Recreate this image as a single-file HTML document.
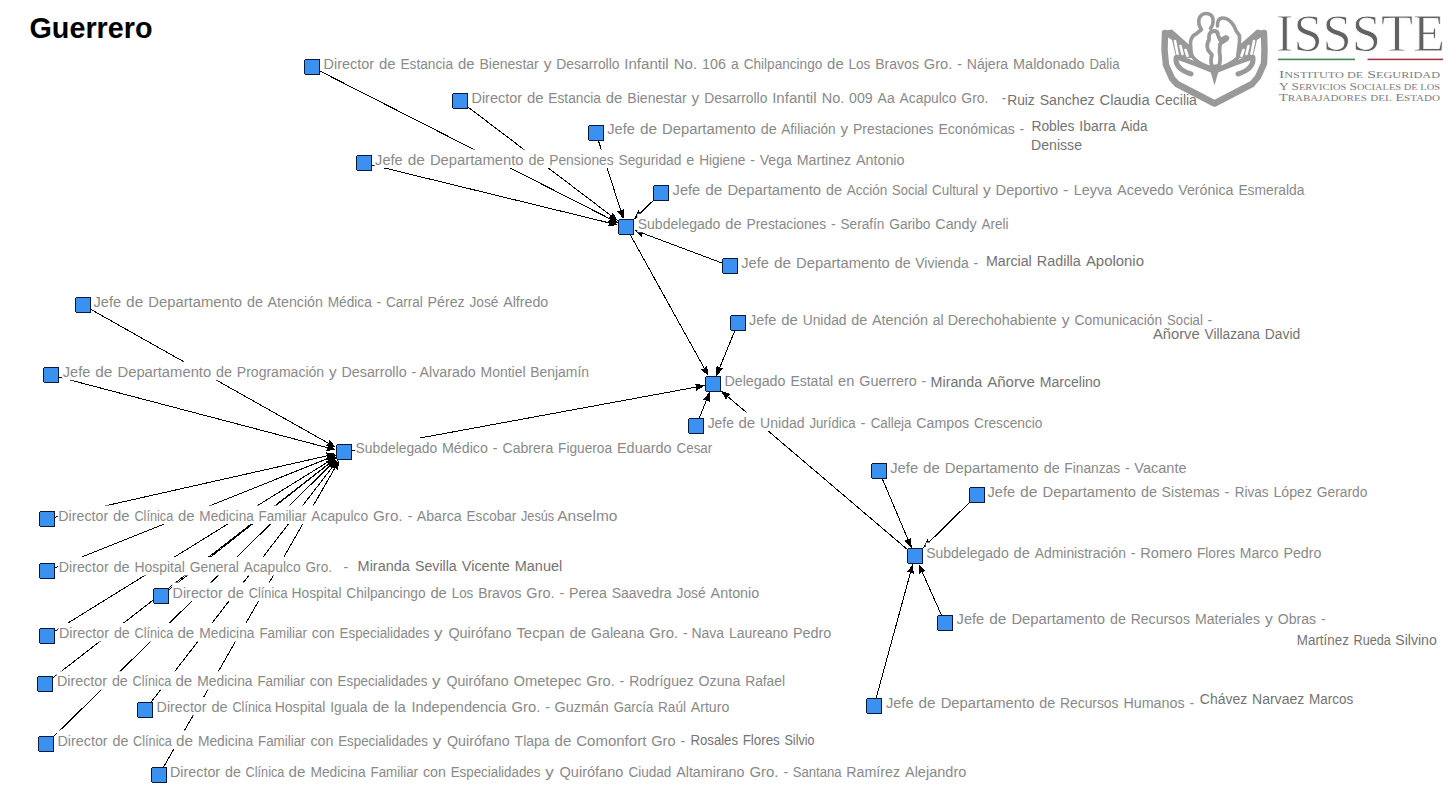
<!DOCTYPE html>
<html><head><meta charset="utf-8"><title>Guerrero</title>
<style>
html,body{margin:0;padding:0;background:#fff;}
body{width:1456px;height:787px;overflow:hidden;position:relative;}
svg{position:absolute;left:0;top:0;display:block;}
</style></head><body>
<svg width="1456" height="787" viewBox="0 0 1456 787">
<rect width="1456" height="787" fill="#fff"/>
<g fill="none" stroke="#999" stroke-linecap="round" stroke-linejoin="round">
<path stroke-width="6.5" d="M1165,33 L1164.5,50 L1166,65 L1172,78.5 L1177,84 L1214.5,103.5 L1252,84 L1258,77 L1264,63.5 L1264.5,50 L1264,33"/>
<path stroke="none" fill="#999" d="M1163,31 L1172,29.5 L1189.5,45 L1192,58 L1176.5,59 L1172,40 L1167.5,37 Z"/>
<path stroke="none" fill="#999" d="M1266,31 L1257,29.5 L1239.5,45 L1237,58 L1252.5,59 L1257,40 L1261.5,37 Z"/>
<g stroke="#fff" stroke-width="2.6" stroke-linecap="round">
<path d="M1175,41 L1177.5,54 M1180.5,46 L1182.5,54 M1185.5,50 L1187.5,56"/>
<path d="M1254,41 L1251.5,54 M1248.5,46 L1246.5,54 M1243.5,50 L1241.5,56"/>
</g>
<path stroke-width="4.6" d="M1176.5,57 L1196,64 L1211,70"/>
<path stroke-width="4.6" d="M1253,57 L1233,64 L1218,70"/>
<path stroke-width="5" d="M1176,58 Q1175,69 1191,74"/>
<path stroke-width="5" d="M1253,58 Q1254,69 1238,74"/>
<path stroke-width="3.6" d="M1214,69 Q1192,62 1191,52 L1190.5,43 Q1191,36 1196,34 L1201.5,29.5 Q1198,25 1199,19 Q1201,13.5 1206,13.5 Q1212,13.5 1213,19 Q1213.5,25 1210.5,28.5"/>
<path stroke-width="3.6" d="M1217.5,26 Q1217,19 1222,18 Q1229,17.5 1234,26 Q1236,32 1239.5,35.5 Q1240,42 1238.5,50 L1237.5,58 Q1230,65 1216,69"/>
<path stroke-width="3.8" d="M1209,36 Q1210,31 1214,31 Q1218,31 1218,35 L1220,40 L1226,37 Q1229,37.5 1226,40 L1220,44 L1219.5,52 Q1221,60 1219,66 L1212,67 Q1210,60 1212,55 L1208,50 Q1206,44 1209,40 Z"/>
<path stroke="none" fill="#999" d="M1209.5,68 L1214.5,85.5 L1219.5,68 Z"/>
</g>
<text x="1276" y="51" font-family="Liberation Serif, serif" font-size="53" fill="#626262" stroke="#fff" stroke-width="0.8" textLength="169" lengthAdjust="spacingAndGlyphs">ISSSTE</text>
<rect x="1278" y="58.6" width="77" height="1.6" fill="#3f8a50"/>
<rect x="1367.5" y="58.6" width="75.5" height="1.6" fill="#a33a4a"/>
<g font-family="Liberation Serif, serif" fill="#7d7d7d">
<text x="1279" y="77.7" font-size="11" textLength="161" lengthAdjust="spacingAndGlyphs">I<tspan font-size="8.6">NSTITUTO  DE</tspan>  S<tspan font-size="8.6">EGURIDAD</tspan></text>
<text x="1279" y="89.6" font-size="11" textLength="161" lengthAdjust="spacingAndGlyphs">Y S<tspan font-size="8.6">ERVICIOS</tspan> S<tspan font-size="8.6">OCIALES DE LOS</tspan></text>
<text x="1279" y="101" font-size="11" textLength="161" lengthAdjust="spacingAndGlyphs">T<tspan font-size="8.6">RABAJADORES</tspan>  <tspan font-size="8.6">DEL</tspan>  E<tspan font-size="8.6">STADO</tspan></text>
</g>

<text x="29.5" y="38.3" font-family="Liberation Sans, sans-serif" font-weight="bold" font-size="30" fill="#000" textLength="123" lengthAdjust="spacingAndGlyphs">Guerrero</text>
<g stroke="#000" stroke-width="1" fill="none" shape-rendering="crispEdges">
<line x1="312.00" y1="67.00" x2="610.16" y2="218.93"/>
<path d="M618.00,222.92L607.90,221.82L610.16,218.93L611.17,215.40Z" stroke="none" fill="#000"/>
<line x1="460.00" y1="101.00" x2="610.99" y2="215.61"/>
<path d="M618.00,220.93L608.26,218.05L610.99,215.61L612.61,212.32Z" stroke="none" fill="#000"/>
<line x1="596.00" y1="133.00" x2="620.77" y2="210.62"/>
<path d="M623.45,219.00L617.13,211.04L620.77,210.62L623.99,208.86Z" stroke="none" fill="#000"/>
<line x1="364.00" y1="163.00" x2="609.45" y2="222.96"/>
<path d="M618.00,225.05L607.92,226.29L609.45,222.96L609.63,219.29Z" stroke="none" fill="#000"/>
<line x1="661.00" y1="193.00" x2="640.31" y2="213.10"/>
<path d="M634.00,219.23L638.31,210.03L640.31,213.10L643.32,215.19Z" stroke="none" fill="#000"/>
<line x1="730.00" y1="266.00" x2="642.24" y2="233.09"/>
<path d="M634.00,230.00L644.16,229.96L642.24,233.09L641.63,236.71Z" stroke="none" fill="#000"/>
<line x1="626.00" y1="227.00" x2="704.30" y2="368.30"/>
<path d="M708.57,376.00L700.81,369.44L704.30,368.30L707.11,365.95Z" stroke="none" fill="#000"/>
<line x1="738.00" y1="323.00" x2="719.62" y2="367.86"/>
<path d="M716.28,376.00L716.55,365.84L719.62,367.86L723.21,368.57Z" stroke="none" fill="#000"/>
<line x1="696.00" y1="426.00" x2="706.46" y2="400.16"/>
<path d="M709.76,392.00L709.53,402.16L706.46,400.16L702.86,399.46Z" stroke="none" fill="#000"/>
<line x1="344.00" y1="452.00" x2="696.35" y2="387.07"/>
<path d="M705.00,385.47L696.31,390.74L696.35,387.07L695.00,383.66Z" stroke="none" fill="#000"/>
<line x1="915.00" y1="556.00" x2="727.70" y2="396.52"/>
<path d="M721.00,390.81L730.57,394.23L727.70,396.52L725.90,399.71Z" stroke="none" fill="#000"/>
<line x1="83.00" y1="305.00" x2="328.33" y2="443.18"/>
<path d="M336.00,447.49L325.96,445.97L328.33,443.18L329.49,439.70Z" stroke="none" fill="#000"/>
<line x1="51.00" y1="375.00" x2="327.49" y2="447.66"/>
<path d="M336.00,449.90L325.90,450.96L327.49,447.66L327.73,444.00Z" stroke="none" fill="#000"/>
<line x1="47.00" y1="519.00" x2="327.42" y2="455.74"/>
<path d="M336.00,453.80L327.53,459.41L327.42,455.74L325.94,452.38Z" stroke="none" fill="#000"/>
<line x1="47.00" y1="571.00" x2="327.83" y2="458.48"/>
<path d="M336.00,455.21L328.52,462.08L327.83,458.48L325.84,455.40Z" stroke="none" fill="#000"/>
<line x1="161.00" y1="596.00" x2="329.08" y2="463.74"/>
<path d="M336.00,458.30L330.76,467.00L329.08,463.74L326.31,461.34Z" stroke="none" fill="#000"/>
<line x1="47.00" y1="636.00" x2="328.52" y2="461.59"/>
<path d="M336.00,456.96L329.82,465.02L328.52,461.59L326.03,458.90Z" stroke="none" fill="#000"/>
<line x1="45.00" y1="684.00" x2="329.05" y2="463.60"/>
<path d="M336.00,458.21L330.70,466.88L329.05,463.60L326.29,461.19Z" stroke="none" fill="#000"/>
<line x1="145.00" y1="710.00" x2="332.45" y2="466.97"/>
<path d="M337.83,460.00L334.88,469.72L332.45,466.97L329.18,465.32Z" stroke="none" fill="#000"/>
<line x1="46.00" y1="744.00" x2="329.71" y2="466.00"/>
<path d="M336.00,459.84L331.73,469.06L329.71,466.00L326.69,463.92Z" stroke="none" fill="#000"/>
<line x1="159.00" y1="775.00" x2="335.04" y2="467.64"/>
<path d="M339.42,460.00L337.82,470.03L335.04,467.64L331.57,466.45Z" stroke="none" fill="#000"/>
<line x1="879.00" y1="471.00" x2="908.18" y2="539.90"/>
<path d="M911.61,548.00L904.59,540.66L908.18,539.90L911.22,537.85Z" stroke="none" fill="#000"/>
<line x1="977.00" y1="495.00" x2="929.27" y2="541.96"/>
<path d="M923.00,548.13L927.25,538.90L929.27,541.96L932.30,544.03Z" stroke="none" fill="#000"/>
<line x1="945.00" y1="623.00" x2="922.18" y2="572.03"/>
<path d="M918.58,564.00L925.75,571.20L922.18,572.03L919.18,574.14Z" stroke="none" fill="#000"/>
<line x1="874.00" y1="706.00" x2="910.49" y2="572.49"/>
<path d="M912.81,564.00L913.78,574.11L910.49,572.49L906.84,572.21Z" stroke="none" fill="#000"/>
</g>
<g fill="#fff">
<rect x="323.1" y="53.75" width="797.4" height="18.5"/>
<rect x="471.0" y="87.50" width="518.5" height="18.5"/>
<rect x="1000.9" y="87.50" width="5.1" height="18.5"/>
<rect x="606.8" y="119.25" width="416.2" height="18.5"/>
<rect x="374.6" y="149.50" width="530.9" height="18.5"/>
<rect x="672.1" y="180.00" width="633.4" height="18.5"/>
<rect x="637.2" y="213.75" width="372.3" height="18.5"/>
<rect x="740.8" y="252.50" width="237.7" height="18.5"/>
<rect x="93.0" y="291.75" width="456.3" height="18.5"/>
<rect x="748.4" y="309.50" width="464.6" height="18.5"/>
<rect x="62.2" y="361.75" width="527.8" height="18.5"/>
<rect x="723.9" y="370.75" width="202.6" height="18.5"/>
<rect x="707.2" y="412.50" width="336.3" height="18.5"/>
<rect x="355.1" y="438.00" width="358.2" height="18.5"/>
<rect x="889.7" y="457.50" width="297.8" height="18.5"/>
<rect x="987.1" y="482.00" width="381.3" height="18.5"/>
<rect x="57.8" y="505.50" width="560.5" height="18.5"/>
<rect x="925.7" y="542.50" width="396.6" height="18.5"/>
<rect x="58.2" y="557.00" width="274.8" height="18.5"/>
<rect x="343.1" y="557.00" width="5.9" height="18.5"/>
<rect x="172.1" y="582.50" width="588.2" height="18.5"/>
<rect x="956.1" y="609.25" width="369.9" height="18.5"/>
<rect x="58.4" y="623.00" width="773.9" height="18.5"/>
<rect x="56.4" y="671.25" width="729.6" height="18.5"/>
<rect x="885.4" y="692.50" width="309.1" height="18.5"/>
<rect x="156.1" y="697.00" width="574.2" height="18.5"/>
<rect x="57.0" y="730.50" width="628.5" height="18.5"/>
<rect x="169.5" y="762.00" width="797.8" height="18.5"/>
</g>
<g font-family="Liberation Sans, sans-serif" font-size="15.5" fill="#898989">
<text lengthAdjust="spacingAndGlyphs" x="323.60" y="68.75" textLength="50.50">Director</text>
<text lengthAdjust="spacingAndGlyphs" x="378.99" y="68.75" textLength="16.57">de</text>
<text lengthAdjust="spacingAndGlyphs" x="400.46" y="68.75" textLength="52.56">Estancia</text>
<text lengthAdjust="spacingAndGlyphs" x="457.95" y="68.75" textLength="16.57">de</text>
<text lengthAdjust="spacingAndGlyphs" x="479.42" y="68.75" textLength="59.38">Bienestar</text>
<text lengthAdjust="spacingAndGlyphs" x="543.70" y="68.75" textLength="7.70">y</text>
<text lengthAdjust="spacingAndGlyphs" x="556.30" y="68.75" textLength="63.20">Desarrollo</text>
<text lengthAdjust="spacingAndGlyphs" x="624.30" y="68.75" textLength="44.38">Infantil</text>
<text lengthAdjust="spacingAndGlyphs" x="673.80" y="68.75" textLength="23.33">No.</text>
<text lengthAdjust="spacingAndGlyphs" x="702.10" y="68.75" textLength="23.94">106</text>
<text lengthAdjust="spacingAndGlyphs" x="730.90" y="68.75" textLength="7.76">a</text>
<text lengthAdjust="spacingAndGlyphs" x="743.70" y="68.75" textLength="78.57">Chilpancingo</text>
<text lengthAdjust="spacingAndGlyphs" x="827.10" y="68.75" textLength="16.58">de</text>
<text lengthAdjust="spacingAndGlyphs" x="848.58" y="68.75" textLength="21.74">Los</text>
<text lengthAdjust="spacingAndGlyphs" x="875.23" y="68.75" textLength="43.68">Bravos</text>
<text lengthAdjust="spacingAndGlyphs" x="923.81" y="68.75" textLength="28.45">Gro.</text>
<text lengthAdjust="spacingAndGlyphs" x="957.16" y="68.75" textLength="4.74">-</text>
<text lengthAdjust="spacingAndGlyphs" x="966.78" y="68.75" textLength="41.36">Nájera</text>
<text lengthAdjust="spacingAndGlyphs" x="1013.07" y="68.75" textLength="71.59">Maldonado</text>
<text lengthAdjust="spacingAndGlyphs" x="1089.55" y="68.75" textLength="29.94">Dalia</text>
<text lengthAdjust="spacingAndGlyphs" x="471.50" y="102.5" textLength="50.50">Director</text>
<text lengthAdjust="spacingAndGlyphs" x="526.89" y="102.5" textLength="16.57">de</text>
<text lengthAdjust="spacingAndGlyphs" x="548.36" y="102.5" textLength="52.56">Estancia</text>
<text lengthAdjust="spacingAndGlyphs" x="605.85" y="102.5" textLength="16.57">de</text>
<text lengthAdjust="spacingAndGlyphs" x="627.32" y="102.5" textLength="59.38">Bienestar</text>
<text lengthAdjust="spacingAndGlyphs" x="691.60" y="102.5" textLength="7.70">y</text>
<text lengthAdjust="spacingAndGlyphs" x="704.20" y="102.5" textLength="63.20">Desarrollo</text>
<text lengthAdjust="spacingAndGlyphs" x="772.20" y="102.5" textLength="44.38">Infantil</text>
<text lengthAdjust="spacingAndGlyphs" x="821.70" y="102.5" textLength="22.58">No.</text>
<text lengthAdjust="spacingAndGlyphs" x="849.09" y="102.5" textLength="23.66">009</text>
<text lengthAdjust="spacingAndGlyphs" x="877.56" y="102.5" textLength="17.15">Aa</text>
<text lengthAdjust="spacingAndGlyphs" x="899.56" y="102.5" textLength="56.89">Acapulco</text>
<text lengthAdjust="spacingAndGlyphs" x="961.29" y="102.5" textLength="27.21">Gro.</text>
<text lengthAdjust="spacingAndGlyphs" x="1001.40" y="102.5" textLength="4.65">-</text>
<text lengthAdjust="spacingAndGlyphs" x="607.30" y="134.25" textLength="27.66">Jefe</text>
<text lengthAdjust="spacingAndGlyphs" x="639.90" y="134.25" textLength="17.13">de</text>
<text lengthAdjust="spacingAndGlyphs" x="662.10" y="134.25" textLength="93.69">Departamento</text>
<text lengthAdjust="spacingAndGlyphs" x="760.70" y="134.25" textLength="15.90">de</text>
<text lengthAdjust="spacingAndGlyphs" x="781.30" y="134.25" textLength="54.32">Afiliación</text>
<text lengthAdjust="spacingAndGlyphs" x="840.51" y="134.25" textLength="7.67">y</text>
<text lengthAdjust="spacingAndGlyphs" x="853.07" y="134.25" textLength="80.46">Prestaciones</text>
<text lengthAdjust="spacingAndGlyphs" x="938.42" y="134.25" textLength="76.29">Económicas</text>
<text lengthAdjust="spacingAndGlyphs" x="1019.60" y="134.25" textLength="4.65">-</text>
<text lengthAdjust="spacingAndGlyphs" x="375.10" y="164.5" textLength="27.66">Jefe</text>
<text lengthAdjust="spacingAndGlyphs" x="407.70" y="164.5" textLength="17.13">de</text>
<text lengthAdjust="spacingAndGlyphs" x="429.90" y="164.5" textLength="93.69">Departamento</text>
<text lengthAdjust="spacingAndGlyphs" x="528.50" y="164.5" textLength="15.98">de</text>
<text lengthAdjust="spacingAndGlyphs" x="549.20" y="164.5" textLength="64.44">Pensiones</text>
<text lengthAdjust="spacingAndGlyphs" x="618.48" y="164.5" textLength="62.95">Seguridad</text>
<text lengthAdjust="spacingAndGlyphs" x="686.29" y="164.5" textLength="8.01">e</text>
<text lengthAdjust="spacingAndGlyphs" x="699.13" y="164.5" textLength="46.18">Higiene</text>
<text lengthAdjust="spacingAndGlyphs" x="750.17" y="164.5" textLength="4.68">-</text>
<text lengthAdjust="spacingAndGlyphs" x="759.69" y="164.5" textLength="32.16">Vega</text>
<text lengthAdjust="spacingAndGlyphs" x="796.73" y="164.5" textLength="54.39">Martinez</text>
<text lengthAdjust="spacingAndGlyphs" x="855.97" y="164.5" textLength="48.52">Antonio</text>
<text lengthAdjust="spacingAndGlyphs" x="672.60" y="195" textLength="27.66">Jefe</text>
<text lengthAdjust="spacingAndGlyphs" x="705.20" y="195" textLength="17.13">de</text>
<text lengthAdjust="spacingAndGlyphs" x="727.40" y="195" textLength="93.69">Departamento</text>
<text lengthAdjust="spacingAndGlyphs" x="826.00" y="195" textLength="15.98">de</text>
<text lengthAdjust="spacingAndGlyphs" x="846.70" y="195" textLength="40.62">Acción</text>
<text lengthAdjust="spacingAndGlyphs" x="892.05" y="195" textLength="35.33">Social</text>
<text lengthAdjust="spacingAndGlyphs" x="932.08" y="195" textLength="46.11">Cultural</text>
<text lengthAdjust="spacingAndGlyphs" x="982.90" y="195" textLength="7.76">y</text>
<text lengthAdjust="spacingAndGlyphs" x="995.60" y="195" textLength="62.51">Deportivo</text>
<text lengthAdjust="spacingAndGlyphs" x="1063.00" y="195" textLength="5.31">-</text>
<text lengthAdjust="spacingAndGlyphs" x="1073.80" y="195" textLength="38.24">Leyva</text>
<text lengthAdjust="spacingAndGlyphs" x="1117.00" y="195" textLength="56.44">Acevedo</text>
<text lengthAdjust="spacingAndGlyphs" x="1178.30" y="195" textLength="55.22">Verónica</text>
<text lengthAdjust="spacingAndGlyphs" x="1238.40" y="195" textLength="66.10">Esmeralda</text>
<text lengthAdjust="spacingAndGlyphs" x="637.70" y="228.75" textLength="82.74">Subdelegado</text>
<text lengthAdjust="spacingAndGlyphs" x="725.28" y="228.75" textLength="16.38">de</text>
<text lengthAdjust="spacingAndGlyphs" x="746.50" y="228.75" textLength="79.66">Prestaciones</text>
<text lengthAdjust="spacingAndGlyphs" x="830.99" y="228.75" textLength="4.68">-</text>
<text lengthAdjust="spacingAndGlyphs" x="840.50" y="228.75" textLength="43.89">Serafín</text>
<text lengthAdjust="spacingAndGlyphs" x="889.24" y="228.75" textLength="41.22">Garibo</text>
<text lengthAdjust="spacingAndGlyphs" x="935.32" y="228.75" textLength="41.40">Candy</text>
<text lengthAdjust="spacingAndGlyphs" x="981.55" y="228.75" textLength="26.96">Areli</text>
<text lengthAdjust="spacingAndGlyphs" x="741.30" y="267.5" textLength="27.66">Jefe</text>
<text lengthAdjust="spacingAndGlyphs" x="773.90" y="267.5" textLength="17.13">de</text>
<text lengthAdjust="spacingAndGlyphs" x="796.10" y="267.5" textLength="93.69">Departamento</text>
<text lengthAdjust="spacingAndGlyphs" x="894.70" y="267.5" textLength="15.90">de</text>
<text lengthAdjust="spacingAndGlyphs" x="915.30" y="267.5" textLength="53.41">Vivienda</text>
<text lengthAdjust="spacingAndGlyphs" x="973.60" y="267.5" textLength="4.65">-</text>
<text lengthAdjust="spacingAndGlyphs" x="93.50" y="306.75" textLength="27.66">Jefe</text>
<text lengthAdjust="spacingAndGlyphs" x="126.10" y="306.75" textLength="17.13">de</text>
<text lengthAdjust="spacingAndGlyphs" x="148.30" y="306.75" textLength="93.69">Departamento</text>
<text lengthAdjust="spacingAndGlyphs" x="246.90" y="306.75" textLength="15.98">de</text>
<text lengthAdjust="spacingAndGlyphs" x="267.60" y="306.75" textLength="55.32">Atención</text>
<text lengthAdjust="spacingAndGlyphs" x="327.72" y="306.75" textLength="44.03">Médica</text>
<text lengthAdjust="spacingAndGlyphs" x="376.56" y="306.75" textLength="4.65">-</text>
<text lengthAdjust="spacingAndGlyphs" x="385.99" y="306.75" textLength="36.78">Carral</text>
<text lengthAdjust="spacingAndGlyphs" x="427.56" y="306.75" textLength="37.17">Pérez</text>
<text lengthAdjust="spacingAndGlyphs" x="469.53" y="306.75" textLength="28.80">José</text>
<text lengthAdjust="spacingAndGlyphs" x="503.13" y="306.75" textLength="45.19">Alfredo</text>
<text lengthAdjust="spacingAndGlyphs" x="748.90" y="324.5" textLength="27.41">Jefe</text>
<text lengthAdjust="spacingAndGlyphs" x="781.20" y="324.5" textLength="16.59">de</text>
<text lengthAdjust="spacingAndGlyphs" x="802.70" y="324.5" textLength="43.83">Unidad</text>
<text lengthAdjust="spacingAndGlyphs" x="851.30" y="324.5" textLength="15.98">de</text>
<text lengthAdjust="spacingAndGlyphs" x="872.00" y="324.5" textLength="55.94">Atención</text>
<text lengthAdjust="spacingAndGlyphs" x="932.80" y="324.5" textLength="10.86">al</text>
<text lengthAdjust="spacingAndGlyphs" x="947.70" y="324.5" textLength="109.11">Derechohabiente</text>
<text lengthAdjust="spacingAndGlyphs" x="1061.70" y="324.5" textLength="7.82">y</text>
<text lengthAdjust="spacingAndGlyphs" x="1074.50" y="324.5" textLength="87.73">Comunicación</text>
<text lengthAdjust="spacingAndGlyphs" x="1167.10" y="324.5" textLength="35.74">Social</text>
<text lengthAdjust="spacingAndGlyphs" x="1207.60" y="324.5" textLength="4.65">-</text>
<text lengthAdjust="spacingAndGlyphs" x="62.70" y="376.75" textLength="27.66">Jefe</text>
<text lengthAdjust="spacingAndGlyphs" x="95.30" y="376.75" textLength="17.13">de</text>
<text lengthAdjust="spacingAndGlyphs" x="117.50" y="376.75" textLength="93.69">Departamento</text>
<text lengthAdjust="spacingAndGlyphs" x="216.10" y="376.75" textLength="15.98">de</text>
<text lengthAdjust="spacingAndGlyphs" x="236.80" y="376.75" textLength="87.36">Programación</text>
<text lengthAdjust="spacingAndGlyphs" x="329.02" y="376.75" textLength="7.62">y</text>
<text lengthAdjust="spacingAndGlyphs" x="341.50" y="376.75" textLength="65.15">Desarrollo</text>
<text lengthAdjust="spacingAndGlyphs" x="411.60" y="376.75" textLength="4.65">-</text>
<text lengthAdjust="spacingAndGlyphs" x="419.60" y="376.75" textLength="56.15">Alvarado</text>
<text lengthAdjust="spacingAndGlyphs" x="480.60" y="376.75" textLength="44.94">Montiel</text>
<text lengthAdjust="spacingAndGlyphs" x="530.30" y="376.75" textLength="58.70">Benjamín</text>
<text lengthAdjust="spacingAndGlyphs" x="724.40" y="385.75" textLength="61.10">Delegado</text>
<text lengthAdjust="spacingAndGlyphs" x="790.40" y="385.75" textLength="42.81">Estatal</text>
<text lengthAdjust="spacingAndGlyphs" x="838.09" y="385.75" textLength="16.33">en</text>
<text lengthAdjust="spacingAndGlyphs" x="859.30" y="385.75" textLength="57.41">Guerrero</text>
<text lengthAdjust="spacingAndGlyphs" x="921.60" y="385.75" textLength="4.65">-</text>
<text lengthAdjust="spacingAndGlyphs" x="707.70" y="427.5" textLength="26.14">Jefe</text>
<text lengthAdjust="spacingAndGlyphs" x="738.50" y="427.5" textLength="16.67">de</text>
<text lengthAdjust="spacingAndGlyphs" x="760.10" y="427.5" textLength="44.46">Unidad</text>
<text lengthAdjust="spacingAndGlyphs" x="809.40" y="427.5" textLength="46.29">Jurídica</text>
<text lengthAdjust="spacingAndGlyphs" x="860.60" y="427.5" textLength="4.97">-</text>
<text lengthAdjust="spacingAndGlyphs" x="870.70" y="427.5" textLength="40.81">Calleja</text>
<text lengthAdjust="spacingAndGlyphs" x="916.30" y="427.5" textLength="52.82">Campos</text>
<text lengthAdjust="spacingAndGlyphs" x="974.00" y="427.5" textLength="68.49">Crescencio</text>
<text lengthAdjust="spacingAndGlyphs" x="355.60" y="453" textLength="81.62">Subdelegado</text>
<text lengthAdjust="spacingAndGlyphs" x="442.00" y="453" textLength="45.90">Médico</text>
<text lengthAdjust="spacingAndGlyphs" x="492.80" y="453" textLength="4.77">-</text>
<text lengthAdjust="spacingAndGlyphs" x="502.50" y="453" textLength="50.68">Cabrera</text>
<text lengthAdjust="spacingAndGlyphs" x="558.11" y="453" textLength="53.95">Figueroa</text>
<text lengthAdjust="spacingAndGlyphs" x="616.97" y="453" textLength="54.66">Eduardo</text>
<text lengthAdjust="spacingAndGlyphs" x="676.52" y="453" textLength="35.78">Cesar</text>
<text lengthAdjust="spacingAndGlyphs" x="890.20" y="472.5" textLength="27.92">Jefe</text>
<text lengthAdjust="spacingAndGlyphs" x="923.10" y="472.5" textLength="16.75">de</text>
<text lengthAdjust="spacingAndGlyphs" x="944.80" y="472.5" textLength="93.98">Departamento</text>
<text lengthAdjust="spacingAndGlyphs" x="1043.70" y="472.5" textLength="15.90">de</text>
<text lengthAdjust="spacingAndGlyphs" x="1064.30" y="472.5" textLength="55.78">Finanzas</text>
<text lengthAdjust="spacingAndGlyphs" x="1125.00" y="472.5" textLength="4.65">-</text>
<text lengthAdjust="spacingAndGlyphs" x="1134.30" y="472.5" textLength="52.20">Vacante</text>
<text lengthAdjust="spacingAndGlyphs" x="987.60" y="497" textLength="27.49">Jefe</text>
<text lengthAdjust="spacingAndGlyphs" x="1020.00" y="497" textLength="17.44">de</text>
<text lengthAdjust="spacingAndGlyphs" x="1042.60" y="497" textLength="93.41">Departamento</text>
<text lengthAdjust="spacingAndGlyphs" x="1140.90" y="497" textLength="15.98">de</text>
<text lengthAdjust="spacingAndGlyphs" x="1161.60" y="497" textLength="58.00">Sistemas</text>
<text lengthAdjust="spacingAndGlyphs" x="1224.60" y="497" textLength="4.97">-</text>
<text lengthAdjust="spacingAndGlyphs" x="1234.70" y="497" textLength="33.79">Rivas</text>
<text lengthAdjust="spacingAndGlyphs" x="1273.40" y="497" textLength="38.57">López</text>
<text lengthAdjust="spacingAndGlyphs" x="1316.80" y="497" textLength="50.61">Gerardo</text>
<text lengthAdjust="spacingAndGlyphs" x="58.30" y="520.5" textLength="49.87">Director</text>
<text lengthAdjust="spacingAndGlyphs" x="113.00" y="520.5" textLength="16.52">de</text>
<text lengthAdjust="spacingAndGlyphs" x="134.40" y="520.5" textLength="38.85">Clínica</text>
<text lengthAdjust="spacingAndGlyphs" x="177.90" y="520.5" textLength="16.52">de</text>
<text lengthAdjust="spacingAndGlyphs" x="199.30" y="520.5" textLength="54.48">Medicina</text>
<text lengthAdjust="spacingAndGlyphs" x="258.60" y="520.5" textLength="47.85">Familiar</text>
<text lengthAdjust="spacingAndGlyphs" x="311.30" y="520.5" textLength="56.86">Acapulco</text>
<text lengthAdjust="spacingAndGlyphs" x="373.00" y="520.5" textLength="29.60">Gro.</text>
<text lengthAdjust="spacingAndGlyphs" x="407.70" y="520.5" textLength="4.65">-</text>
<text lengthAdjust="spacingAndGlyphs" x="416.70" y="520.5" textLength="44.93">Abarca</text>
<text lengthAdjust="spacingAndGlyphs" x="466.60" y="520.5" textLength="49.65">Escobar</text>
<text lengthAdjust="spacingAndGlyphs" x="521.00" y="520.5" textLength="33.20">Jesús</text>
<text lengthAdjust="spacingAndGlyphs" x="557.30" y="520.5" textLength="60.01">Anselmo</text>
<text lengthAdjust="spacingAndGlyphs" x="926.20" y="557.5" textLength="82.49">Subdelegado</text>
<text lengthAdjust="spacingAndGlyphs" x="1013.52" y="557.5" textLength="16.33">de</text>
<text lengthAdjust="spacingAndGlyphs" x="1034.68" y="557.5" textLength="91.28">Administración</text>
<text lengthAdjust="spacingAndGlyphs" x="1130.77" y="557.5" textLength="4.66">-</text>
<text lengthAdjust="spacingAndGlyphs" x="1140.26" y="557.5" textLength="51.84">Romero</text>
<text lengthAdjust="spacingAndGlyphs" x="1196.94" y="557.5" textLength="38.08">Flores</text>
<text lengthAdjust="spacingAndGlyphs" x="1239.83" y="557.5" textLength="38.78">Marco</text>
<text lengthAdjust="spacingAndGlyphs" x="1283.42" y="557.5" textLength="37.89">Pedro</text>
<text lengthAdjust="spacingAndGlyphs" x="58.70" y="572" textLength="49.96">Director</text>
<text lengthAdjust="spacingAndGlyphs" x="113.50" y="572" textLength="16.21">de</text>
<text lengthAdjust="spacingAndGlyphs" x="134.50" y="572" textLength="50.31">Hospital</text>
<text lengthAdjust="spacingAndGlyphs" x="189.70" y="572" textLength="49.26">General</text>
<text lengthAdjust="spacingAndGlyphs" x="243.70" y="572" textLength="56.95">Acapulco</text>
<text lengthAdjust="spacingAndGlyphs" x="305.50" y="572" textLength="26.50">Gro.</text>
<text lengthAdjust="spacingAndGlyphs" x="343.60" y="572" textLength="4.65">-</text>
<text lengthAdjust="spacingAndGlyphs" x="172.60" y="597.5" textLength="50.15">Director</text>
<text lengthAdjust="spacingAndGlyphs" x="227.60" y="597.5" textLength="16.36">de</text>
<text lengthAdjust="spacingAndGlyphs" x="248.80" y="597.5" textLength="38.85">Clínica</text>
<text lengthAdjust="spacingAndGlyphs" x="291.50" y="597.5" textLength="50.00">Hospital</text>
<text lengthAdjust="spacingAndGlyphs" x="346.36" y="597.5" textLength="79.15">Chilpancingo</text>
<text lengthAdjust="spacingAndGlyphs" x="430.38" y="597.5" textLength="16.46">de</text>
<text lengthAdjust="spacingAndGlyphs" x="451.71" y="597.5" textLength="21.58">Los</text>
<text lengthAdjust="spacingAndGlyphs" x="478.15" y="597.5" textLength="43.35">Bravos</text>
<text lengthAdjust="spacingAndGlyphs" x="526.37" y="597.5" textLength="28.23">Gro.</text>
<text lengthAdjust="spacingAndGlyphs" x="559.47" y="597.5" textLength="4.70">-</text>
<text lengthAdjust="spacingAndGlyphs" x="569.02" y="597.5" textLength="37.78">Perea</text>
<text lengthAdjust="spacingAndGlyphs" x="611.69" y="597.5" textLength="59.95">Saavedra</text>
<text lengthAdjust="spacingAndGlyphs" x="676.52" y="597.5" textLength="29.21">José</text>
<text lengthAdjust="spacingAndGlyphs" x="710.60" y="597.5" textLength="48.69">Antonio</text>
<text lengthAdjust="spacingAndGlyphs" x="956.60" y="624.25" textLength="27.66">Jefe</text>
<text lengthAdjust="spacingAndGlyphs" x="989.20" y="624.25" textLength="17.13">de</text>
<text lengthAdjust="spacingAndGlyphs" x="1011.40" y="624.25" textLength="93.69">Departamento</text>
<text lengthAdjust="spacingAndGlyphs" x="1110.00" y="624.25" textLength="15.98">de</text>
<text lengthAdjust="spacingAndGlyphs" x="1130.70" y="624.25" textLength="59.25">Recursos</text>
<text lengthAdjust="spacingAndGlyphs" x="1194.91" y="624.25" textLength="65.05">Materiales</text>
<text lengthAdjust="spacingAndGlyphs" x="1264.93" y="624.25" textLength="7.81">y</text>
<text lengthAdjust="spacingAndGlyphs" x="1277.72" y="624.25" textLength="38.33">Obras</text>
<text lengthAdjust="spacingAndGlyphs" x="1321.02" y="624.25" textLength="4.65">-</text>
<text lengthAdjust="spacingAndGlyphs" x="58.90" y="638" textLength="50.15">Director</text>
<text lengthAdjust="spacingAndGlyphs" x="113.90" y="638" textLength="15.90">de</text>
<text lengthAdjust="spacingAndGlyphs" x="134.50" y="638" textLength="38.85">Clínica</text>
<text lengthAdjust="spacingAndGlyphs" x="177.40" y="638" textLength="16.90">de</text>
<text lengthAdjust="spacingAndGlyphs" x="199.30" y="638" textLength="55.22">Medicina</text>
<text lengthAdjust="spacingAndGlyphs" x="259.40" y="638" textLength="47.57">Familiar</text>
<text lengthAdjust="spacingAndGlyphs" x="311.80" y="638" textLength="22.96">con</text>
<text lengthAdjust="spacingAndGlyphs" x="339.60" y="638" textLength="89.72">Especialidades</text>
<text lengthAdjust="spacingAndGlyphs" x="434.10" y="638" textLength="8.53">y</text>
<text lengthAdjust="spacingAndGlyphs" x="448.40" y="638" textLength="63.02">Quirófano</text>
<text lengthAdjust="spacingAndGlyphs" x="516.40" y="638" textLength="48.05">Tecpan</text>
<text lengthAdjust="spacingAndGlyphs" x="569.40" y="638" textLength="16.75">de</text>
<text lengthAdjust="spacingAndGlyphs" x="591.10" y="638" textLength="53.29">Galeana</text>
<text lengthAdjust="spacingAndGlyphs" x="649.37" y="638" textLength="28.77">Gro.</text>
<text lengthAdjust="spacingAndGlyphs" x="683.10" y="638" textLength="4.65">-</text>
<text lengthAdjust="spacingAndGlyphs" x="691.40" y="638" textLength="32.67">Nava</text>
<text lengthAdjust="spacingAndGlyphs" x="728.97" y="638" textLength="59.09">Laureano</text>
<text lengthAdjust="spacingAndGlyphs" x="792.93" y="638" textLength="38.38">Pedro</text>
<text lengthAdjust="spacingAndGlyphs" x="56.90" y="686.25" textLength="50.15">Director</text>
<text lengthAdjust="spacingAndGlyphs" x="111.90" y="686.25" textLength="15.90">de</text>
<text lengthAdjust="spacingAndGlyphs" x="132.50" y="686.25" textLength="38.85">Clínica</text>
<text lengthAdjust="spacingAndGlyphs" x="175.40" y="686.25" textLength="16.90">de</text>
<text lengthAdjust="spacingAndGlyphs" x="197.30" y="686.25" textLength="55.22">Medicina</text>
<text lengthAdjust="spacingAndGlyphs" x="257.40" y="686.25" textLength="47.57">Familiar</text>
<text lengthAdjust="spacingAndGlyphs" x="309.80" y="686.25" textLength="22.96">con</text>
<text lengthAdjust="spacingAndGlyphs" x="337.60" y="686.25" textLength="89.72">Especialidades</text>
<text lengthAdjust="spacingAndGlyphs" x="432.10" y="686.25" textLength="8.53">y</text>
<text lengthAdjust="spacingAndGlyphs" x="446.40" y="686.25" textLength="62.17">Quirófano</text>
<text lengthAdjust="spacingAndGlyphs" x="513.48" y="686.25" textLength="67.91">Ometepec</text>
<text lengthAdjust="spacingAndGlyphs" x="586.27" y="686.25" textLength="28.43">Gro.</text>
<text lengthAdjust="spacingAndGlyphs" x="619.60" y="686.25" textLength="4.73">-</text>
<text lengthAdjust="spacingAndGlyphs" x="629.22" y="686.25" textLength="64.42">Rodríguez</text>
<text lengthAdjust="spacingAndGlyphs" x="698.55" y="686.25" textLength="41.72">Ozuna</text>
<text lengthAdjust="spacingAndGlyphs" x="745.19" y="686.25" textLength="39.82">Rafael</text>
<text lengthAdjust="spacingAndGlyphs" x="885.90" y="707.5" textLength="27.66">Jefe</text>
<text lengthAdjust="spacingAndGlyphs" x="918.50" y="707.5" textLength="17.13">de</text>
<text lengthAdjust="spacingAndGlyphs" x="940.70" y="707.5" textLength="93.69">Departamento</text>
<text lengthAdjust="spacingAndGlyphs" x="1039.30" y="707.5" textLength="15.98">de</text>
<text lengthAdjust="spacingAndGlyphs" x="1060.00" y="707.5" textLength="58.50">Recursos</text>
<text lengthAdjust="spacingAndGlyphs" x="1123.40" y="707.5" textLength="61.25">Humanos</text>
<text lengthAdjust="spacingAndGlyphs" x="1189.57" y="707.5" textLength="4.65">-</text>
<text lengthAdjust="spacingAndGlyphs" x="156.60" y="712" textLength="49.96">Director</text>
<text lengthAdjust="spacingAndGlyphs" x="211.40" y="712" textLength="16.21">de</text>
<text lengthAdjust="spacingAndGlyphs" x="232.40" y="712" textLength="38.85">Clínica</text>
<text lengthAdjust="spacingAndGlyphs" x="274.70" y="712" textLength="50.68">Hospital</text>
<text lengthAdjust="spacingAndGlyphs" x="330.30" y="712" textLength="37.27">Iguala</text>
<text lengthAdjust="spacingAndGlyphs" x="372.50" y="712" textLength="16.75">de</text>
<text lengthAdjust="spacingAndGlyphs" x="394.20" y="712" textLength="11.65">la</text>
<text lengthAdjust="spacingAndGlyphs" x="411.40" y="712" textLength="95.29">Independencia</text>
<text lengthAdjust="spacingAndGlyphs" x="511.60" y="712" textLength="28.75">Gro.</text>
<text lengthAdjust="spacingAndGlyphs" x="545.30" y="712" textLength="4.65">-</text>
<text lengthAdjust="spacingAndGlyphs" x="554.60" y="712" textLength="54.22">Guzmán</text>
<text lengthAdjust="spacingAndGlyphs" x="613.70" y="712" textLength="39.51">García</text>
<text lengthAdjust="spacingAndGlyphs" x="658.10" y="712" textLength="27.86">Raúl</text>
<text lengthAdjust="spacingAndGlyphs" x="690.80" y="712" textLength="38.51">Arturo</text>
<text lengthAdjust="spacingAndGlyphs" x="57.50" y="745.5" textLength="50.15">Director</text>
<text lengthAdjust="spacingAndGlyphs" x="112.50" y="745.5" textLength="15.90">de</text>
<text lengthAdjust="spacingAndGlyphs" x="133.10" y="745.5" textLength="38.85">Clínica</text>
<text lengthAdjust="spacingAndGlyphs" x="176.00" y="745.5" textLength="16.90">de</text>
<text lengthAdjust="spacingAndGlyphs" x="197.90" y="745.5" textLength="55.22">Medicina</text>
<text lengthAdjust="spacingAndGlyphs" x="258.00" y="745.5" textLength="47.57">Familiar</text>
<text lengthAdjust="spacingAndGlyphs" x="310.40" y="745.5" textLength="22.96">con</text>
<text lengthAdjust="spacingAndGlyphs" x="338.20" y="745.5" textLength="89.72">Especialidades</text>
<text lengthAdjust="spacingAndGlyphs" x="432.70" y="745.5" textLength="8.53">y</text>
<text lengthAdjust="spacingAndGlyphs" x="447.00" y="745.5" textLength="62.64">Quirófano</text>
<text lengthAdjust="spacingAndGlyphs" x="514.59" y="745.5" textLength="35.02">Tlapa</text>
<text lengthAdjust="spacingAndGlyphs" x="554.56" y="745.5" textLength="16.70">de</text>
<text lengthAdjust="spacingAndGlyphs" x="576.20" y="745.5" textLength="70.14">Comonfort</text>
<text lengthAdjust="spacingAndGlyphs" x="651.26" y="745.5" textLength="24.35">Gro</text>
<text lengthAdjust="spacingAndGlyphs" x="680.55" y="745.5" textLength="4.65">-</text>
<text lengthAdjust="spacingAndGlyphs" x="170.00" y="777" textLength="50.15">Director</text>
<text lengthAdjust="spacingAndGlyphs" x="225.00" y="777" textLength="15.90">de</text>
<text lengthAdjust="spacingAndGlyphs" x="245.60" y="777" textLength="38.85">Clínica</text>
<text lengthAdjust="spacingAndGlyphs" x="288.50" y="777" textLength="16.90">de</text>
<text lengthAdjust="spacingAndGlyphs" x="310.40" y="777" textLength="55.22">Medicina</text>
<text lengthAdjust="spacingAndGlyphs" x="370.50" y="777" textLength="47.57">Familiar</text>
<text lengthAdjust="spacingAndGlyphs" x="422.90" y="777" textLength="22.96">con</text>
<text lengthAdjust="spacingAndGlyphs" x="450.70" y="777" textLength="89.72">Especialidades</text>
<text lengthAdjust="spacingAndGlyphs" x="545.20" y="777" textLength="8.53">y</text>
<text lengthAdjust="spacingAndGlyphs" x="559.50" y="777" textLength="63.86">Quirófano</text>
<text lengthAdjust="spacingAndGlyphs" x="628.40" y="777" textLength="43.00">Ciudad</text>
<text lengthAdjust="spacingAndGlyphs" x="676.20" y="777" textLength="68.34">Altamirano</text>
<text lengthAdjust="spacingAndGlyphs" x="749.40" y="777" textLength="29.00">Gro.</text>
<text lengthAdjust="spacingAndGlyphs" x="783.40" y="777" textLength="4.65">-</text>
<text lengthAdjust="spacingAndGlyphs" x="792.70" y="777" textLength="48.94">Santana</text>
<text lengthAdjust="spacingAndGlyphs" x="846.20" y="777" textLength="53.82">Ramírez</text>
<text lengthAdjust="spacingAndGlyphs" x="904.96" y="777" textLength="61.34">Alejandro</text>
</g>
<g font-family="Liberation Sans, sans-serif" font-size="14" fill="#737373">
<text lengthAdjust="spacingAndGlyphs" x="1007.20" y="105" textLength="27.58">Ruiz</text>
<text lengthAdjust="spacingAndGlyphs" x="1039.70" y="105" textLength="54.90">Sanchez</text>
<text lengthAdjust="spacingAndGlyphs" x="1099.50" y="105" textLength="50.13">Claudia</text>
<text lengthAdjust="spacingAndGlyphs" x="1155.00" y="105" textLength="41.88">Cecilia</text>
<text lengthAdjust="spacingAndGlyphs" x="1031.40" y="130.5" textLength="43.10">Robles</text>
<text lengthAdjust="spacingAndGlyphs" x="1079.32" y="130.5" textLength="36.51">Ibarra</text>
<text lengthAdjust="spacingAndGlyphs" x="1120.65" y="130.5" textLength="26.83">Aida</text>
<text lengthAdjust="spacingAndGlyphs" x="1031.00" y="149.5" textLength="51.01">Denisse</text>
<text lengthAdjust="spacingAndGlyphs" x="985.90" y="265.5" textLength="45.85">Marcial</text>
<text lengthAdjust="spacingAndGlyphs" x="1036.88" y="265.5" textLength="43.87">Radilla</text>
<text lengthAdjust="spacingAndGlyphs" x="1085.90" y="265.5" textLength="58.10">Apolonio</text>
<text lengthAdjust="spacingAndGlyphs" x="1152.90" y="339.25" textLength="46.77">Añorve</text>
<text lengthAdjust="spacingAndGlyphs" x="1204.53" y="339.25" textLength="55.39">Villazana</text>
<text lengthAdjust="spacingAndGlyphs" x="1264.83" y="339.25" textLength="35.36">David</text>
<text lengthAdjust="spacingAndGlyphs" x="930.60" y="386.5" textLength="51.56">Miranda</text>
<text lengthAdjust="spacingAndGlyphs" x="987.16" y="386.5" textLength="47.65">Añorve</text>
<text lengthAdjust="spacingAndGlyphs" x="1039.76" y="386.5" textLength="60.94">Marcelino</text>
<text lengthAdjust="spacingAndGlyphs" x="357.60" y="570.6" textLength="52.32">Miranda</text>
<text lengthAdjust="spacingAndGlyphs" x="415.00" y="570.6" textLength="41.69">Sevilla</text>
<text lengthAdjust="spacingAndGlyphs" x="461.80" y="570.6" textLength="47.98">Vicente</text>
<text lengthAdjust="spacingAndGlyphs" x="514.70" y="570.6" textLength="47.60">Manuel</text>
<text lengthAdjust="spacingAndGlyphs" x="1296.80" y="645" textLength="52.06">Martínez</text>
<text lengthAdjust="spacingAndGlyphs" x="1353.50" y="645" textLength="37.42">Rueda</text>
<text lengthAdjust="spacingAndGlyphs" x="1395.30" y="645" textLength="41.41">Silvino</text>
<text lengthAdjust="spacingAndGlyphs" x="1199.80" y="703.75" textLength="47.40">Chávez</text>
<text lengthAdjust="spacingAndGlyphs" x="1252.02" y="703.75" textLength="52.24">Narvaez</text>
<text lengthAdjust="spacingAndGlyphs" x="1309.05" y="703.75" textLength="44.06">Marcos</text>
<text lengthAdjust="spacingAndGlyphs" x="690.50" y="744.9" textLength="47.51">Rosales</text>
<text lengthAdjust="spacingAndGlyphs" x="742.70" y="744.9" textLength="37.11">Flores</text>
<text lengthAdjust="spacingAndGlyphs" x="784.51" y="744.9" textLength="29.99">Silvio</text>
</g>
<g shape-rendering="crispEdges">
<path d="M305,59H319L320,60V74L319,75H305L304,74V60Z" fill="#081838"/><rect x="305" y="60" width="14" height="14" fill="#3a91ef"/>
<path d="M453,93H467L468,94V108L467,109H453L452,108V94Z" fill="#081838"/><rect x="453" y="94" width="14" height="14" fill="#3a91ef"/>
<path d="M589,125H603L604,126V140L603,141H589L588,140V126Z" fill="#081838"/><rect x="589" y="126" width="14" height="14" fill="#3a91ef"/>
<path d="M357,155H371L372,156V170L371,171H357L356,170V156Z" fill="#081838"/><rect x="357" y="156" width="14" height="14" fill="#3a91ef"/>
<path d="M654,185H668L669,186V200L668,201H654L653,200V186Z" fill="#081838"/><rect x="654" y="186" width="14" height="14" fill="#3a91ef"/>
<path d="M619,219H633L634,220V234L633,235H619L618,234V220Z" fill="#081838"/><rect x="619" y="220" width="14" height="14" fill="#3a91ef"/>
<path d="M723,258H737L738,259V273L737,274H723L722,273V259Z" fill="#081838"/><rect x="723" y="259" width="14" height="14" fill="#3a91ef"/>
<path d="M76,297H90L91,298V312L90,313H76L75,312V298Z" fill="#081838"/><rect x="76" y="298" width="14" height="14" fill="#3a91ef"/>
<path d="M731,315H745L746,316V330L745,331H731L730,330V316Z" fill="#081838"/><rect x="731" y="316" width="14" height="14" fill="#3a91ef"/>
<path d="M44,367H58L59,368V382L58,383H44L43,382V368Z" fill="#081838"/><rect x="44" y="368" width="14" height="14" fill="#3a91ef"/>
<path d="M706,376H720L721,377V391L720,392H706L705,391V377Z" fill="#081838"/><rect x="706" y="377" width="14" height="14" fill="#3a91ef"/>
<path d="M689,418H703L704,419V433L703,434H689L688,433V419Z" fill="#081838"/><rect x="689" y="419" width="14" height="14" fill="#3a91ef"/>
<path d="M337,444H351L352,445V459L351,460H337L336,459V445Z" fill="#081838"/><rect x="337" y="445" width="14" height="14" fill="#3a91ef"/>
<path d="M872,463H886L887,464V478L886,479H872L871,478V464Z" fill="#081838"/><rect x="872" y="464" width="14" height="14" fill="#3a91ef"/>
<path d="M970,487H984L985,488V502L984,503H970L969,502V488Z" fill="#081838"/><rect x="970" y="488" width="14" height="14" fill="#3a91ef"/>
<path d="M40,511H54L55,512V526L54,527H40L39,526V512Z" fill="#081838"/><rect x="40" y="512" width="14" height="14" fill="#3a91ef"/>
<path d="M908,548H922L923,549V563L922,564H908L907,563V549Z" fill="#081838"/><rect x="908" y="549" width="14" height="14" fill="#3a91ef"/>
<path d="M40,563H54L55,564V578L54,579H40L39,578V564Z" fill="#081838"/><rect x="40" y="564" width="14" height="14" fill="#3a91ef"/>
<path d="M154,588H168L169,589V603L168,604H154L153,603V589Z" fill="#081838"/><rect x="154" y="589" width="14" height="14" fill="#3a91ef"/>
<path d="M938,615H952L953,616V630L952,631H938L937,630V616Z" fill="#081838"/><rect x="938" y="616" width="14" height="14" fill="#3a91ef"/>
<path d="M40,628H54L55,629V643L54,644H40L39,643V629Z" fill="#081838"/><rect x="40" y="629" width="14" height="14" fill="#3a91ef"/>
<path d="M38,676H52L53,677V691L52,692H38L37,691V677Z" fill="#081838"/><rect x="38" y="677" width="14" height="14" fill="#3a91ef"/>
<path d="M867,698H881L882,699V713L881,714H867L866,713V699Z" fill="#081838"/><rect x="867" y="699" width="14" height="14" fill="#3a91ef"/>
<path d="M138,702H152L153,703V717L152,718H138L137,717V703Z" fill="#081838"/><rect x="138" y="703" width="14" height="14" fill="#3a91ef"/>
<path d="M39,736H53L54,737V751L53,752H39L38,751V737Z" fill="#081838"/><rect x="39" y="737" width="14" height="14" fill="#3a91ef"/>
<path d="M152,767H166L167,768V782L166,783H152L151,782V768Z" fill="#081838"/><rect x="152" y="768" width="14" height="14" fill="#3a91ef"/>
</g>
</svg>
</body></html>
